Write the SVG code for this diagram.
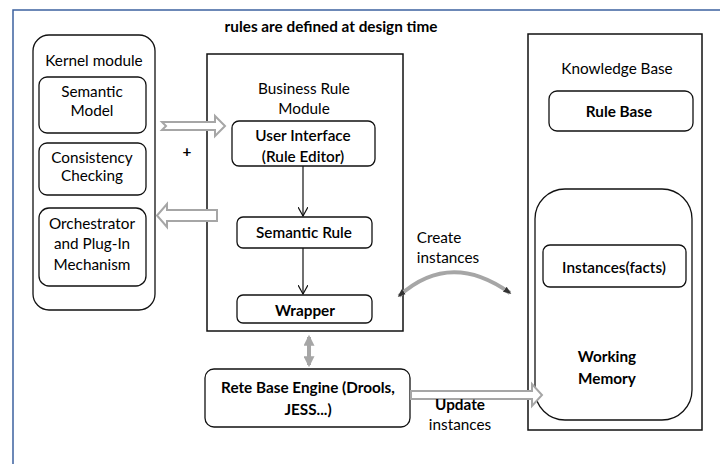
<svg xmlns="http://www.w3.org/2000/svg" width="724" height="464" viewBox="0 0 724 464">
<style>
text{font-family:Lato,"Liberation Sans",sans-serif;font-size:15.3px;fill:#000;text-anchor:middle}
.b{font-weight:bold}
.m{font-weight:600}
.box{fill:#fff;stroke:#111;stroke-width:1.3}
.blk{fill:none;stroke:#111;stroke-width:1.2}
.hol{fill:#fff;stroke:#a6a6a6;stroke-width:2}
</style>
<defs>
<marker id="v" viewBox="0 0 10 10" refX="9" refY="5" markerWidth="10" markerHeight="10" markerUnits="userSpaceOnUse" orient="auto">
<path d="M0,0 L9,5 L0,10" fill="none" stroke="#111" stroke-width="1.2"/>
</marker>
<marker id="g" viewBox="0 0 10 10" refX="8" refY="5" markerWidth="11" markerHeight="11" markerUnits="userSpaceOnUse" orient="auto-start-reverse">
<path d="M0,0 L10,5 L0,10 Z" fill="#a6a6a6"/>
</marker>
<marker id="d" viewBox="0 0 10 10" refX="8" refY="5" markerWidth="8" markerHeight="8" markerUnits="userSpaceOnUse" orient="auto-start-reverse">
<path d="M0,1 L10,5 L0,9 Z" fill="#333"/>
</marker>
</defs>
<rect x="0" y="0" width="724" height="464" fill="#fff"/>
<path d="M13,470 L13,10 L720,10" fill="none" stroke="#3d62a0" stroke-width="1.5"/>
<text class="b" x="331" y="32" font-size="14.5">rules are defined at design time</text>

<g id="kernel">
<rect class="box" x="33" y="35" width="122" height="275" rx="16"/>
<text x="94" y="66">Kernel module</text>
</g>
<g id="semantic-model">
<rect class="box" x="39" y="77" width="107" height="56" rx="8"/>
<text x="92" y="97">Semantic</text>
<text x="92" y="116">Model</text>
</g>
<g id="consistency">
<rect class="box" x="39" y="143" width="107" height="52" rx="8"/>
<text x="92" y="163">Consistency</text>
<text x="92" y="181">Checking</text>
</g>
<g id="orchestrator">
<rect class="box" x="39" y="208" width="107" height="78" rx="10"/>
<text x="92" y="229">Orchestrator</text>
<text x="92" y="249">and Plug-In</text>
<text x="92" y="270">Mechanism</text>
</g>

<g id="business-rule-module">
<rect x="207" y="54" width="196" height="277" fill="#fff" stroke="#111" stroke-width="1.5"/>
<text x="304" y="94" font-size="18.5">Business Rule</text>
<text x="304" y="114" font-size="18.5">Module</text>
</g>
<g id="user-interface">
<rect class="box" x="232" y="121" width="143" height="45" rx="7"/>
<text x="303" y="141" class="m">User Interface</text>
<text x="303" y="162" class="m">(Rule Editor)</text>
</g>
<g id="semantic-rule">
<rect class="box" x="237" y="217" width="135" height="31" rx="6"/>
<text x="304" y="238" class="m">Semantic  Rule</text>
</g>
<g id="wrapper">
<rect class="box" x="237" y="295" width="135" height="28" rx="6"/>
<text class="b" x="305" y="316">Wrapper</text>
</g>
<g id="rete">
<rect class="box" x="205" y="369" width="205" height="58" rx="9"/>
<text class="b" x="308" y="393">Rete Base Engine (Drools,</text>
<text class="b" x="308" y="415">JESS...)</text>
</g>

<g id="knowledge-base">
<rect x="528" y="34" width="174" height="396" fill="#fff" stroke="#111" stroke-width="1.5"/>
<text x="617" y="74" font-size="17.5">Knowledge Base</text>
</g>
<g id="rule-base">
<rect class="box" x="549" y="91" width="144" height="40" rx="8"/>
<text class="b" x="619" y="117" font-size="16">Rule Base</text>
</g>
<g id="working-memory">
<rect class="box" x="535" y="189" width="157" height="231" rx="30"/>
<text class="b" x="607" y="362">Working</text>
<text class="b" x="607" y="384">Memory</text>
</g>
<g id="instances">
<rect class="box" x="543" y="245" width="143" height="42" rx="7"/>
<text x="614" y="273" class="m">Instances(facts)</text>
</g>

<g id="connectors">
<line class="blk" x1="303" y1="166" x2="303" y2="216" marker-end="url(#v)"/>
<line class="blk" x1="303" y1="248" x2="303" y2="294" marker-end="url(#v)"/>
<line x1="309" y1="337" x2="309" y2="365" stroke="#a6a6a6" stroke-width="4" marker-start="url(#g)" marker-end="url(#g)"/>
<path class="hol" d="M162,122 L215,122 L215,116 L225,126 L215,136 L215,130 L162,130 L166,126 Z"/>
<path class="hol" d="M217,210 L167,210 L167,204 L157,215.5 L167,227 L167,221 L217,221 Z"/>
<path class="hol" d="M411,391 L532,391 L532,384 L542,395 L532,406 L532,399 L411,399 Z"/>
<path d="M399,296 Q450,250 510,293" fill="none" stroke="#a6a6a6" stroke-width="4" marker-start="url(#d)" marker-end="url(#d)"/>
<text x="187" y="157" class="b" font-size="13">+</text>
<text x="439" y="243" font-size="14">Create</text>
<text x="448" y="263" font-size="14">instances</text>
<text class="b" x="460" y="410" font-size="16">Update</text>
<text x="460" y="430" font-size="15.7">instances</text>
</g>
</svg>
